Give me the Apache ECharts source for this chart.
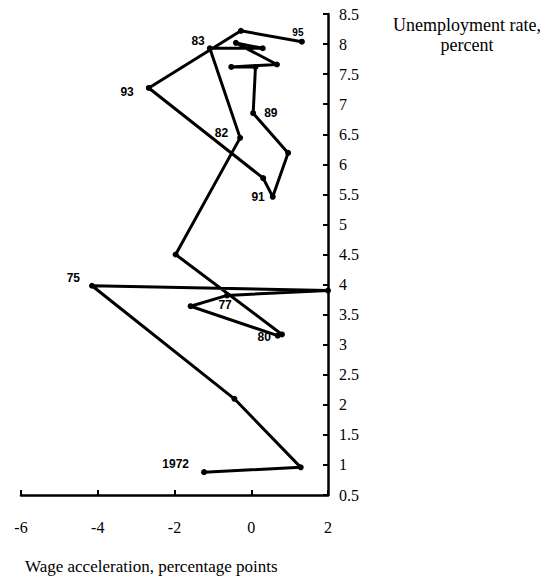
<!DOCTYPE html>
<html><head><meta charset="utf-8">
<script src="https://cdn.jsdelivr.net/npm/echarts@6/dist/echarts.min.js"></script>
<style>html,body{margin:0;padding:0;background:#fff}#c{width:549px;height:582px}</style>
</head><body><div id="c"></div>
<script>
// Years of the connected path
const years = [1972,1973,1974,1975,1976,1977,1978,1979,1980,1981,1982,1983,
               1984,1985,1986,1987,1988,1989,1990,1991,1992,1993,1994,1995];
// Wage acceleration, percentage points (x)
const wageAcceleration = [-1.23, 1.29, -0.44, -4.15, 2.0, -0.63, -1.58, 0.69, 0.80, -1.97, -0.29, -1.08,
                          0.30, -0.40, 0.67, -0.52, 0.11, 0.05, 0.96, 0.56, 0.31, -2.67, -0.27, 1.32];
// Unemployment rate, percent (y)
const unemploymentRate = [0.88, 0.96, 2.10, 3.98, 3.90, 3.82, 3.64, 3.15, 3.17, 4.50, 6.44, 7.93,
                          7.93, 8.02, 7.66, 7.62, 7.62, 6.85, 6.19, 5.46, 5.77, 7.27, 8.22, 8.04];
// Point labels shown on the chart
const pointLabels = {1972:'1972', 1975:'75', 1977:'77', 1980:'80', 1982:'82',
                     1983:'83', 1989:'89', 1991:'91', 1993:'93', 1995:'95'};
const xTickMin = -6, xTickMax = 2, xTickStep = 2;
const yTickMin = 0.5, yTickMax = 8.5, yTickStep = 0.5;
const yAxisTitle = 'Unemployment rate,\npercent';
const xAxisTitle = 'Wage acceleration, percentage points';

// label placement (style only)
const labelPlacement = {
  1972: {position:'left', distance:12, offset:[0,-8]},
  1975: {position:'left', distance:9, offset:[0,-8]},
  1977: {position:'bottom', distance:1, offset:[-2,0]},
  1980: {position:'left', distance:8, offset:[0,3]},
  1982: {position:'left', distance:9, offset:[0,-5]},
  1983: {position:'left', distance:2, offset:[0,-7]},
  1989: {position:'right', distance:8, offset:[0,0]},
  1991: {position:'left', distance:5, offset:[0,0]},
  1993: {position:'left', distance:12, offset:[0,4]},
  1995: {position:'top', distance:1, offset:[-4,0], fontSize:10}
};

const serif = "'Liberation Serif', 'Times New Roman', serif";
const sans = "'Liberation Sans', Arial, sans-serif";

const data = years.map((yr, i) => {
  const item = {value: [wageAcceleration[i], unemploymentRate[i]]};
  if (pointLabels[yr]) {
    const p = labelPlacement[yr];
    item.label = {show: true, formatter: pointLabels[yr], position: p.position,
      distance: p.distance, offset: p.offset, fontSize: p.fontSize || 12,
      fontWeight: 'bold', fontFamily: sans, color: '#000'};
  }
  return item;
});

const chart = echarts.init(document.getElementById('c'), null, {renderer: 'svg'});
chart.setOption({
  animation: false,
  backgroundColor: '#fff',
  title: [
    {text: yAxisTitle, left: 462, top: 10, textAlign: 'center',
     textStyle: {fontFamily: serif, fontSize: 18, fontWeight: 'normal', color: '#000', lineHeight: 20}},
    {text: xAxisTitle, left: 20, top: 553,
     textStyle: {fontFamily: serif, fontSize: 17, fontWeight: 'normal', color: '#000'}}
  ],
  grid: {left: 21, right: 221, top: 14, bottom: 87},
  xAxis: {
    type: 'value', min: xTickMin, max: xTickMax, interval: xTickStep,
    position: 'bottom',
    axisLine: {onZero: false, lineStyle: {color: '#000', width: 2.5}},
    axisTick: {inside: true, length: 5, lineStyle: {color: '#000', width: 2}},
    axisLabel: {margin: 24, fontFamily: serif, fontSize: 16, color: '#000'},
    splitLine: {show: false}
  },
  yAxis: {
    type: 'value', min: yTickMin, max: yTickMax, interval: yTickStep,
    position: 'right',
    axisLine: {show: true, onZero: false, lineStyle: {color: '#000', width: 2.5}},
    axisTick: {show: true, inside: true, length: 5, lineStyle: {color: '#000', width: 2}},
    axisLabel: {margin: 11, fontFamily: serif, fontSize: 16, color: '#000'},
    splitLine: {show: false}
  },
  series: [{
    type: 'line',
    data: data,
    symbol: 'circle', symbolSize: 6,
    showAllSymbol: true,
    lineStyle: {color: '#000', width: 3},
    itemStyle: {color: '#000'},
    z: 3
  }]
});
</script>
</body></html>
